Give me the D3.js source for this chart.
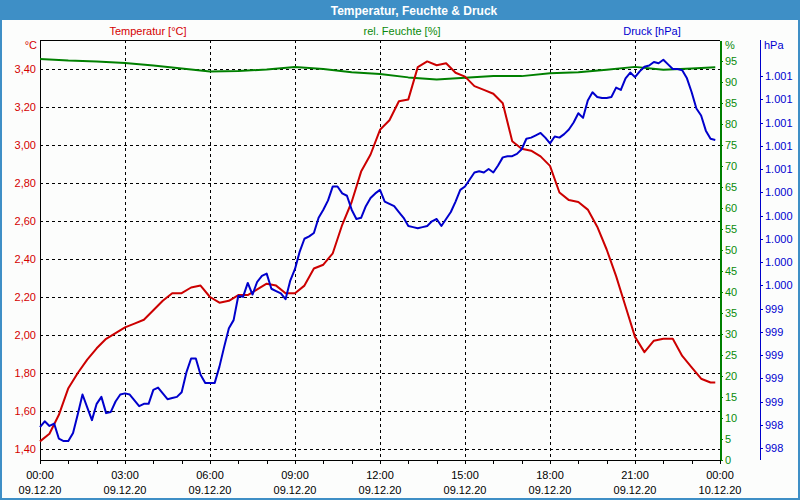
<!DOCTYPE html>
<html><head><meta charset="utf-8">
<script src="https://cdn.jsdelivr.net/npm/d3@7"></script>
<style>html,body{margin:0;padding:0;background:#fff}svg{display:block;font-family:"Liberation Sans",Arial,sans-serif}</style>
</head><body><svg id="c" width="800" height="500"></svg>
<script>
// ---------- data ----------
const chartTitle = "Temperatur, Feuchte & Druck";
const seriesNames = ["Temperatur [°C]", "rel. Feuchte [%]", "Druck [hPa]"];
const unitLabels = ["°C", "%", "hPa"];
const xTickMinutes = [0, 180, 360, 540, 720, 900, 1080, 1260, 1440];
const xTimeLabels = ["00:00", "03:00", "06:00", "09:00", "12:00", "15:00", "18:00", "21:00", "00:00"];
const xDateLabels = ["09.12.20", "09.12.20", "09.12.20", "09.12.20", "09.12.20", "09.12.20", "09.12.20", "09.12.20", "10.12.20"];
const tempTicks = [1.4, 1.6, 1.8, 2.0, 2.2, 2.4, 2.6, 2.8, 3.0, 3.2, 3.4];
const humTicks = [0, 5, 10, 15, 20, 25, 30, 35, 40, 45, 50, 55, 60, 65, 70, 75, 80, 85, 90, 95];
const presTicks = [998.2, 998.4, 998.6, 998.8, 999.0, 999.2, 999.4, 999.6, 999.8, 1000.0, 1000.2, 1000.4, 1000.6, 1000.8, 1001.0, 1001.2, 1001.4];

// sample times in minutes since 09.12.20 00:00
const tempTimes = d3.range(0, 1440, 20).concat([1430]);
const humTimes = d3.range(0, 1440, 60).concat([1430]);
const presTimes = d3.range(0, 1440, 10);

const temperature = [1.44, 1.48, 1.58, 1.72, 1.80, 1.87, 1.93, 1.98, 2.01, 2.04, 2.06, 2.08, 2.13, 2.18, 2.22, 2.22, 2.25, 2.26, 2.20, 2.17,
  2.18, 2.21, 2.21, 2.24, 2.27, 2.26, 2.22, 2.22, 2.26, 2.35, 2.37, 2.43, 2.58, 2.70, 2.86, 2.95, 3.08, 3.13, 3.23, 3.24,
  3.41, 3.44, 3.42, 3.43, 3.38, 3.36, 3.31, 3.29, 3.27, 3.22, 3.02, 2.98, 2.97, 2.94, 2.89, 2.75, 2.71, 2.70, 2.66, 2.57,
  2.45, 2.31, 2.15, 1.99, 1.91, 1.97, 1.98, 1.98, 1.89, 1.83, 1.77, 1.75, 1.75];

const humidity = [95.5, 95.1, 94.9, 94.5, 93.9, 93.2, 92.5, 92.6, 93.0, 93.6, 93.1, 92.3, 91.9, 91.1, 90.6, 91.0, 91.4, 91.4, 92.1, 92.3,
  92.9, 93.6, 92.9, 93.2, 93.5];

const pressure = [998.38, 998.43, 998.39, 998.41, 998.28, 998.26, 998.26, 998.33, 998.49, 998.66,
  998.55, 998.44, 998.58, 998.64, 998.50, 998.51, 998.60, 998.66, 998.67, 998.66,
  998.61, 998.56, 998.58, 998.58, 998.70, 998.72, 998.67, 998.62, 998.63, 998.64,
  998.68, 998.85, 998.97, 998.97, 998.83, 998.76, 998.76, 998.76, 998.90, 999.07,
  999.23, 999.30, 999.51, 999.50, 999.62, 999.52, 999.63, 999.68, 999.70, 999.57,
  999.55, 999.53, 999.48, 999.64, 999.74, 999.89, 1000.00, 1000.02, 1000.05, 1000.18,
  1000.25, 1000.33, 1000.45, 1000.45, 1000.39, 1000.37, 1000.25, 1000.17, 1000.18, 1000.28,
  1000.35, 1000.39, 1000.42, 1000.32, 1000.30, 1000.28, 1000.23, 1000.18, 1000.11, 1000.10,
  1000.09, 1000.10, 1000.11, 1000.15, 1000.17, 1000.11, 1000.17, 1000.23, 1000.32, 1000.42,
  1000.45, 1000.51, 1000.57, 1000.58, 1000.57, 1000.60, 1000.57, 1000.63, 1000.70, 1000.71,
  1000.71, 1000.73, 1000.77, 1000.86, 1000.87, 1000.89, 1000.91, 1000.87, 1000.82, 1000.88,
  1000.87, 1000.90, 1000.94, 1001.00, 1001.08, 1001.04, 1001.19, 1001.26, 1001.22, 1001.21,
  1001.21, 1001.22, 1001.30, 1001.28, 1001.38, 1001.43, 1001.39, 1001.44, 1001.48, 1001.49,
  1001.52, 1001.51, 1001.54, 1001.50, 1001.46, 1001.46, 1001.45, 1001.38, 1001.26, 1001.12,
  1001.06, 1000.93, 1000.86, 1000.85];

// ---------- drawing ----------
const W = 800, H = 500;
const C = { frame: "#3e8fc6", bg: "#fcfdfc", red: "#cc0000", green: "#008000", blue: "#0000cc",
            redText: "#d40000", greenText: "#0a8a0a", blueText: "#0000d0" };
const de = d3.formatLocale({ decimal: ",", thousands: ".", grouping: [3], currency: ["", " €"] });
const fmtT = de.format(",.2f"), fmtP = v => de.format(",.0f")(Math.round(v));

const svg = d3.select("#c");
svg.append("rect").attr("width", W).attr("height", H).attr("fill", C.frame);
svg.append("rect").attr("x", 2).attr("y", 20).attr("width", W - 4).attr("height", H - 22).attr("fill", C.bg);
svg.append("text").attr("x", 414).attr("y", 10.5).attr("dy", "0.35em").attr("text-anchor", "middle")
  .attr("fill", "#fff").attr("font-weight", "bold").attr("font-size", 12).text(chartTitle);

const L = 40, R = 720, T = 40, B = 460;
const x = d3.scaleLinear().domain([0, 1440]).range([L, R]);
const yT = d3.scaleLinear().domain([1.4, 3.4]).range([449, 69]);
const yH = d3.scaleLinear().domain([0, 100]).range([B, T]);
const yP = d3.scaleLinear().domain([998.2, 1001.4]).range([448, 76]);

// series titles
const titleX = [148, 402, 652], titleCol = [C.redText, C.greenText, C.blueText];
svg.selectAll(".st").data(seriesNames).join("text")
  .attr("x", (d, i) => titleX[i]).attr("y", 31).attr("dy", "0.35em").attr("text-anchor", "middle")
  .attr("font-size", 11).attr("fill", (d, i) => titleCol[i]).text(d => d);

// gridlines
const grid = svg.append("g").attr("stroke", "#000").attr("stroke-dasharray", "3,3").attr("shape-rendering", "crispEdges");
grid.selectAll(".h").data(tempTicks).join("line")
  .attr("x1", L).attr("x2", R).attr("y1", d => Math.round(yT(d)) + 0.5).attr("y2", d => Math.round(yT(d)) + 0.5);
grid.selectAll(".v").data(xTickMinutes.slice(1, -1)).join("line")
  .attr("y1", T).attr("y2", B).attr("x1", d => Math.round(x(d)) + 0.5).attr("x2", d => Math.round(x(d)) + 0.5);

// left axis (temperature)
const gL = svg.append("g").attr("transform", `translate(${L},0)`)
  .call(d3.axisLeft(yT).tickValues(tempTicks).tickFormat(fmtT).tickSize(0).tickPadding(4));
gL.select(".domain").remove();
gL.selectAll("text").attr("fill", C.redText).attr("font-size", 11).attr("font-family", "Liberation Sans, Arial, sans-serif");

// right axis (humidity)
const gH = svg.append("g").attr("transform", `translate(${R},0)`)
  .call(d3.axisRight(yH).tickValues(humTicks).tickFormat(d3.format("d")).tickSize(3).tickPadding(2).tickSizeOuter(0));
gH.select(".domain").attr("stroke", C.green).attr("stroke-width", 2).attr("shape-rendering", "crispEdges");
gH.selectAll("line").attr("stroke", C.green).attr("shape-rendering", "crispEdges");
gH.selectAll("text").attr("fill", C.greenText).attr("font-size", 11).attr("font-family", "Liberation Sans, Arial, sans-serif");

// pressure axis
const gP = svg.append("g").attr("transform", "translate(760,0)")
  .call(d3.axisRight(yP).tickValues(presTicks).tickFormat(fmtP).tickSize(3).tickPadding(2).tickSizeOuter(0));
gP.select(".domain").attr("d", `M0.5,${T}V${B}`).attr("stroke", C.blue).attr("shape-rendering", "crispEdges");
gP.selectAll("line").attr("stroke", C.blue).attr("shape-rendering", "crispEdges");
gP.selectAll("text").attr("fill", C.blueText).attr("font-size", 11).attr("font-family", "Liberation Sans, Arial, sans-serif");

// unit labels
svg.append("text").attr("x", 37).attr("y", 45).attr("dy", "0.35em").attr("text-anchor", "end").attr("font-size", 11).attr("fill", C.redText).text(unitLabels[0]);
svg.append("text").attr("x", 725).attr("y", 45).attr("dy", "0.35em").attr("font-size", 11).attr("fill", C.greenText).text(unitLabels[1]);
svg.append("text").attr("x", 764).attr("y", 45).attr("dy", "0.35em").attr("font-size", 11).attr("fill", C.blueText).text(unitLabels[2]);

// bottom axis
const gB = svg.append("g").attr("transform", `translate(0,${B})`)
  .call(d3.axisBottom(x).tickValues(d3.range(0, 1441, 60)).tickFormat("").tickSize(4).tickSizeOuter(0));
gB.select(".domain").remove();
gB.selectAll("line").attr("shape-rendering", "crispEdges");
const lab = svg.append("g").attr("font-size", 11).attr("fill", "#000").attr("text-anchor", "middle");
lab.selectAll(".t").data(xTickMinutes).join("text").attr("x", d => x(d)).attr("y", 475).attr("dy", "0.35em").text((d, i) => xTimeLabels[i]);
lab.selectAll(".d").data(xTickMinutes).join("text").attr("x", d => x(d)).attr("y", 490).attr("dy", "0.35em").text((d, i) => xDateLabels[i]);

// frame lines
const fr = svg.append("g").attr("stroke", "#000").attr("shape-rendering", "crispEdges");
fr.append("line").attr("x1", L + 0.5).attr("x2", L + 0.5).attr("y1", T).attr("y2", B + 1);
fr.append("line").attr("x1", L).attr("x2", R).attr("y1", T + 0.5).attr("y2", T + 0.5);
fr.append("line").attr("x1", L).attr("x2", R).attr("y1", B + 0.5).attr("y2", B + 0.5);

// series lines
const plot = svg.append("g");
function drawLine(times, vals, yScale, color) {
  const pts = times.map((t, i) => [t, vals[i]]);
  plot.append("path").datum(pts).attr("fill", "none").attr("stroke", color).attr("stroke-width", 2)
    .attr("stroke-linejoin", "round")
    .attr("d", d3.line().x(d => x(d[0])).y(d => yScale(d[1])));
}
drawLine(humTimes, humidity, yH, C.green);
drawLine(tempTimes, temperature, yT, C.red);
drawLine(presTimes, pressure, yP, C.blue);
</script></body></html>
